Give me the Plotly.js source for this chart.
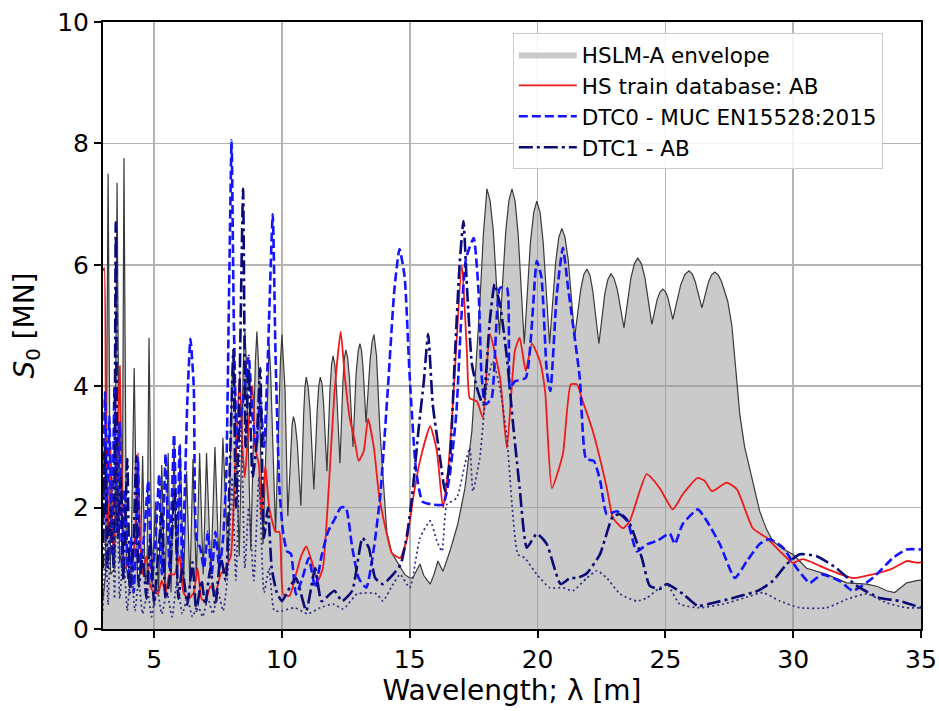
<!DOCTYPE html>
<html>
<head>
<meta charset="utf-8">
<script src="https://cdn.plot.ly/plotly-3.0.1.min.js"></script>
<style>html,body{margin:0;padding:0;background:#fff;}#chart{width:939px;height:711px;}</style>
</head>
<body>
<div id="chart"></div>
<script>
// HSLM-A envelope
const envX = [3.0,3.1,3.2,3.3,3.45,3.55,3.65,3.75,3.82,3.92,4.08,4.22,4.35,4.45,4.55,4.65,4.72,4.8,4.92,5.05,5.17,5.3,5.42,5.55,5.66,5.78,5.9,6.02,6.15,6.27,6.4,6.52,6.65,6.78,6.92,7.05,7.22,7.38,7.54,7.69,7.9,8.04,8.1,8.16,8.33,8.49,8.55,8.61,8.78,8.96,9.02,9.08,9.26,9.44,9.5,9.56,9.75,9.94,10.0,10.06,10.12,10.23,10.34,10.4,10.45,10.52,10.6,10.74,10.85,10.9,10.95,11.02,11.1,11.25,11.38,11.44,11.5,11.57,11.63,11.76,11.88,11.94,12.0,12.07,12.13,12.27,12.385,12.44,12.5,12.57,12.64,12.78,12.9,12.98,13.05,13.11,13.17,13.29,13.45,13.53,13.6,13.7,13.83,14.1,14.3,14.5,14.8,15.0,15.12,15.25,15.4,15.55,15.8,15.95,16.1,16.3,16.57,16.88,17.16,17.43,17.6,17.74,17.88,17.95,18.02,18.14,18.27,18.51,18.755,18.88,19.0,19.12,19.24,19.48,19.72,19.85,19.97,20.1,20.22,20.47,20.71,20.83,20.95,21.07,21.2,21.45,21.69,21.81,21.93,22.05,22.16,22.4,22.63,22.75,22.87,22.99,23.12,23.38,23.65,23.79,23.92,24.06,24.2,24.47,24.68,24.79,24.9,25.0,25.1,25.29,25.6,25.76,25.92,26.05,26.17,26.43,26.68,26.8,26.93,27.07,27.2,27.44,27.6,27.75,27.91,28.1,28.3,28.5,28.69,28.95,29.2,29.6,29.98,30.53,31.31,32.1,32.88,33.3,33.66,33.97,34.2,34.44,34.87,35.0];
const envY = [0.5,0.9,7.5,0.9,1.0,7.35,1.1,1.3,7.76,1.0,0.7,4.3,0.8,0.9,2.85,0.8,0.9,4.8,0.7,2.1,0.6,2.7,0.6,2.9,0.6,3.05,0.7,3.05,0.7,2.6,0.7,2.8,0.8,2.9,0.9,2.9,0.9,3.0,1.0,3.15,1.1,4.0,4.5,4.0,1.2,4.4,4.9,4.4,1.3,4.4,4.9,4.4,1.4,4.2,4.7,4.2,1.6,4.4,4.85,4.4,3.95,1.86,3.02,3.37,3.5,3.38,3.07,2.03,3.54,3.98,4.15,4.0,3.61,2.3,3.61,4.0,4.15,4.03,3.7,2.6,3.95,4.35,4.5,4.36,3.99,2.73,4.06,4.45,4.6,4.47,4.14,3.0,4.2,4.57,4.7,4.6,4.32,3.4,4.43,4.74,4.85,4.5,3.3,1.6,1.25,1.1,0.9,0.84,0.84,0.95,1.07,0.88,0.74,0.9,1.12,0.95,1.28,1.73,2.32,3.26,4.4,5.35,6.5,6.95,7.25,7.06,6.55,4.85,6.55,7.06,7.25,7.05,6.51,4.7,6.37,6.86,7.05,6.86,6.37,4.7,6.05,6.45,6.6,6.46,6.08,4.8,5.6,5.84,5.93,5.83,5.57,4.7,5.52,5.76,5.85,5.78,5.59,4.96,5.78,6.02,6.11,6.02,5.79,5.02,5.43,5.55,5.6,5.56,5.46,5.1,5.67,5.84,5.9,5.85,5.72,5.29,5.71,5.83,5.88,5.83,5.72,5.4,5.0,4.3,3.54,3.0,2.65,2.25,1.94,1.65,1.45,1.32,1.23,1.0,0.9,0.76,0.74,0.7,0.63,0.6,0.68,0.76,0.8,0.8];

// HS train database: AB
const redX = [3.0,3.05,3.12,3.2,3.3,3.4,3.5,3.6,3.66,3.75,3.85,4.0,4.15,4.3,4.37,4.45,4.55,4.7,4.85,5.0,5.15,5.3,5.45,5.6,5.8,6.0,6.15,6.35,6.55,6.7,6.85,7.0,7.2,7.4,7.6,7.8,8.0,8.15,8.35,8.45,8.55,8.7,8.85,8.95,9.1,9.2,9.35,9.5,9.75,9.9,10.05,10.3,10.55,10.75,10.95,11.2,11.4,11.6,11.8,12.05,12.3,12.45,12.65,12.85,13.0,13.2,13.37,13.6,13.8,14.1,14.3,14.62,14.9,15.15,15.4,15.8,16.06,16.3,16.5,16.7,17.04,17.24,17.35,17.63,17.86,18.13,18.53,18.8,19.11,19.3,19.54,19.78,20.1,20.3,20.56,20.99,21.3,21.54,21.77,22.16,22.71,22.95,23.34,23.61,24.27,24.78,25.29,25.68,26.27,26.54,26.82,27.4,27.8,28.42,28.97,29.48,29.98,30.38,31.31,32.33,33.11,33.9,34.44,34.87,35.0];
const redY = [5.9,5.95,2.5,1.5,3.0,1.2,2.0,3.5,4.33,2.0,1.0,1.07,1.1,2.0,2.9,1.5,0.9,1.2,0.7,0.6,0.58,0.8,0.6,0.9,0.9,1.2,0.6,0.5,0.6,1.0,0.5,0.45,0.7,0.6,0.9,1.0,1.2,2.5,4.2,3.0,2.5,3.4,4.0,3.0,2.7,1.8,2.7,2.0,1.6,1.6,0.57,0.55,0.9,1.2,1.36,1.07,0.79,1.0,2.1,3.87,4.9,4.2,3.48,3.1,2.77,2.93,3.46,2.98,2.2,1.57,1.25,1.17,1.5,2.2,2.77,3.34,2.93,2.0,2.6,3.8,6.0,4.53,3.8,3.75,3.48,4.86,4.14,2.98,4.58,4.8,4.25,4.7,4.4,3.9,2.32,2.88,4.03,4.03,3.75,3.26,2.32,1.83,1.66,1.78,2.55,2.32,1.97,2.22,2.49,2.44,2.27,2.41,2.3,1.66,1.5,1.28,1.09,1.15,0.99,0.84,0.9,1.0,1.12,1.09,1.1];

// DTC0 - MUC EN15528:2015
const dtc0X = [3.0,3.08,3.15,3.25,3.35,3.45,3.55,3.65,3.75,3.85,4.0,4.1,4.2,4.3,4.37,4.45,4.6,4.77,4.9,5.05,5.2,5.3,5.45,5.6,5.78,5.9,6.0,6.1,6.3,6.42,6.55,6.65,6.8,6.95,7.1,7.25,7.4,7.55,7.7,7.82,7.93,8.03,8.12,8.25,8.4,8.55,8.7,8.85,9.0,9.15,9.3,9.45,9.64,9.75,9.9,10.05,10.2,10.35,10.55,10.8,11.05,11.3,11.55,11.8,12.05,12.3,12.5,12.75,13.0,13.3,13.6,13.85,14.15,14.4,14.6,14.8,15.0,15.25,15.5,15.9,16.3,16.55,16.82,17.0,17.2,17.5,17.7,17.8,17.95,18.2,18.53,18.8,18.92,19.11,19.54,19.97,20.15,20.36,20.5,20.75,20.99,21.2,21.65,21.9,22.2,22.45,22.71,23.1,23.5,23.88,24.3,24.67,25.17,25.37,25.68,26.27,26.62,27.13,27.72,28.19,28.69,29.08,29.6,30.14,30.65,31.12,31.82,32.33,33.11,33.9,34.44,35.0];
const dtc0Y = [1.5,3.9,2.0,3.5,1.2,4.0,1.6,3.4,1.0,2.3,0.8,1.5,0.6,1.5,2.82,1.0,1.5,2.44,0.8,1.4,2.55,0.9,2.88,1.0,3.21,1.2,3.05,1.0,3.76,4.78,4.0,1.5,1.34,1.0,1.6,0.9,1.6,1.0,1.5,2.5,5.5,8.05,5.0,3.0,3.5,4.0,4.5,3.5,3.0,3.8,3.0,4.5,6.83,4.5,2.32,1.57,1.28,1.24,0.57,0.84,1.17,0.68,1.2,1.6,1.8,2.0,2.0,1.34,0.84,0.68,1.34,2.22,4.0,5.6,6.26,5.8,4.14,2.6,2.1,2.05,2.05,2.49,3.54,5.0,6.1,6.44,5.5,4.25,3.7,3.8,5.62,5.62,3.97,4.08,4.14,6.06,5.8,4.25,3.92,5.5,6.28,5.6,4.14,2.8,2.77,2.44,1.89,1.94,1.8,1.28,1.4,1.45,1.57,1.4,1.73,1.97,1.78,1.4,0.84,1.12,1.4,1.48,1.34,1.0,0.76,0.9,0.79,0.63,0.84,1.17,1.31,1.31];

// DTC1 - AB
const dtc1X = [3.0,3.08,3.18,3.3,3.42,3.5,3.58,3.7,3.8,3.95,4.05,4.2,4.3,4.4,4.55,4.7,4.85,5.0,5.15,5.3,5.45,5.6,5.8,5.95,6.1,6.3,6.5,6.65,6.85,7.0,7.2,7.4,7.6,7.8,7.95,8.1,8.2,8.3,8.48,8.58,8.7,8.85,9.0,9.15,9.3,9.45,9.6,9.8,10.0,10.3,10.55,10.95,11.3,11.55,12.05,12.35,12.75,13.15,13.4,13.65,13.95,14.35,14.65,14.9,15.1,15.35,15.55,15.72,15.9,16.2,16.38,16.57,16.77,16.95,17.1,17.24,17.43,17.63,17.86,18.13,18.32,18.53,18.8,19.03,19.3,19.58,19.97,20.36,20.9,21.28,21.54,21.93,22.44,22.95,23.22,23.61,24.08,24.39,24.78,25.06,25.68,26.27,26.86,27.64,28.62,29.2,29.75,30.26,30.92,31.7,32.49,33.39,34.17,35.0];
const dtc1Y = [1.0,3.0,1.0,2.0,1.0,6.7,1.5,2.5,0.8,2.8,0.6,1.5,2.85,0.7,1.2,0.5,1.5,0.4,1.2,1.9,0.5,0.8,2.3,0.5,1.0,0.4,1.1,0.3,0.8,0.4,1.0,0.4,1.2,0.8,2.5,4.6,2.0,3.0,7.25,3.0,4.3,2.5,3.0,4.3,1.5,2.0,1.0,0.6,0.46,0.68,0.84,0.3,1.0,0.46,0.63,0.46,0.63,1.5,1.34,0.84,0.74,0.9,1.07,1.57,2.22,3.31,4.08,4.86,3.7,2.77,2.27,2.77,4.53,6.0,6.72,5.62,4.37,3.97,3.7,5.07,5.68,5.35,4.47,3.43,2.32,1.34,1.57,1.4,0.74,0.84,0.84,0.92,1.23,1.86,1.89,1.73,1.17,0.71,0.66,0.74,0.58,0.38,0.43,0.51,0.63,0.79,1.07,1.23,1.2,1.0,0.71,0.51,0.46,0.35];

// unlabelled dotted series
const dotX = [3.0,3.1,3.2,3.35,3.45,3.55,3.65,3.8,3.95,4.1,4.25,4.4,4.55,4.75,4.9,5.1,5.3,5.5,5.7,5.9,6.1,6.3,6.5,6.7,6.9,7.1,7.3,7.5,7.7,7.9,8.05,8.2,8.4,8.55,8.7,8.9,9.1,9.3,9.5,9.7,10.0,10.5,11.0,11.5,12.0,12.4,12.95,13.7,13.95,14.35,14.62,15.0,15.4,15.8,16.06,16.26,16.45,16.84,17.16,17.35,17.47,17.74,18.02,18.25,18.53,18.8,19.0,19.23,19.5,19.97,20.48,20.99,21.38,21.93,22.32,22.71,23.22,23.88,24.27,24.78,25.06,25.56,26.35,27.25,28.3,28.81,29.48,30.26,31.31,32.1,32.88,33.66,34.44,35.0];
const dotY = [0.3,1.5,0.4,2.5,0.5,3.0,0.5,1.2,0.3,1.0,0.3,0.8,0.25,0.6,0.2,0.7,0.25,0.6,0.2,0.8,0.25,0.5,0.2,0.4,0.2,0.5,0.25,0.6,0.3,1.0,2.5,0.8,3.5,1.0,2.0,0.8,2.5,0.6,1.0,0.3,0.3,0.35,0.25,0.35,0.41,0.33,0.58,0.58,0.46,0.74,0.9,0.68,1.5,1.78,1.45,1.28,2.05,2.16,2.72,2.98,2.27,2.82,4.03,4.41,3.97,3.15,2.05,1.23,1.17,0.9,0.68,0.68,0.63,0.84,0.96,0.84,0.58,0.46,0.51,0.68,0.74,0.41,0.35,0.41,0.54,0.6,0.46,0.35,0.35,0.49,0.58,0.43,0.35,0.35];

const xTicks = [5,10,15,20,25,30,35];
const yTicks = [0,2,4,6,8,10];

const FONT = 'DejaVu Sans, Arial, sans-serif';
const sm = 0.5;

const traces = [
  {x: envX, y: envY, type: 'scatter', mode: 'lines', name: 'HSLM-A envelope',
   fill: 'tozeroy', fillcolor: 'rgba(150,150,150,0.5)', line: {width: 0, color: 'rgba(0,0,0,0)'}},
  {x: envX, y: envY, type: 'scatter', mode: 'lines', showlegend: false,
   line: {width: 1.2, color: '#3a3a3a'}},
  {x: redX, y: redY, type: 'scatter', mode: 'lines', name: 'HS train database: AB',
   line: {width: 1.8, color: '#f01a1a', shape: 'spline', smoothing: sm}},
  {x: dtc0X, y: dtc0Y, type: 'scatter', mode: 'lines', name: 'DTC0 - MUC EN15528:2015',
   line: {width: 2.6, color: '#1414ff', dash: '9px,4px', shape: 'spline', smoothing: sm}},
  {x: dtc1X, y: dtc1Y, type: 'scatter', mode: 'lines', name: 'DTC1 - AB',
   line: {width: 2.6, color: '#0a0a78', dash: '14px,4px,3px,4px', shape: 'spline', smoothing: sm}},
  {x: dotX, y: dotY, type: 'scatter', mode: 'lines', showlegend: false,
   line: {width: 1.7, color: '#2a2a80', dash: '2px,3px', shape: 'spline', smoothing: sm}}
];

const axisCommon = {
  showgrid: true, gridcolor: '#b4b4b4', gridwidth: 1.5,
  showline: true, linecolor: '#000', linewidth: 2, mirror: true,
  ticks: 'outside', ticklen: 7, tickwidth: 2, tickcolor: '#000',
  tickfont: {family: FONT, size: 25, color: '#000'},
  zeroline: false
};

const layout = {
  width: 939, height: 711,
  margin: {l: 103, r: 18, t: 22, b: 82, pad: 0},
  paper_bgcolor: '#fff', plot_bgcolor: '#fff',
  font: {family: FONT, color: '#000'},
  xaxis: Object.assign({}, axisCommon, {
    range: [3, 35], tickmode: 'array', tickvals: xTicks, ticktext: xTicks.map(String),
    title: {text: 'Wavelength; λ [m]', font: {family: FONT, size: 28, color: '#000'}, standoff: 4}
  }),
  yaxis: Object.assign({}, axisCommon, {
    range: [0, 10], tickmode: 'array', tickvals: yTicks, ticktext: yTicks.map(String),
    title: {text: '<i>S</i><sub>0</sub> [MN]', font: {family: FONT, size: 28, color: '#000'}, standoff: 14}
  }),
  legend: {
    x: 0.501, y: 0.982, xanchor: 'left', yanchor: 'top',
    bgcolor: 'rgba(255,255,255,0.85)', bordercolor: '#cccccc', borderwidth: 1,
    itemwidth: 58,
    font: {family: FONT, size: 21.5, color: '#000'}
  },
  showlegend: true,
  hovermode: false
};

Plotly.newPlot('chart', traces, layout, {staticPlot: true, displayModeBar: false});
</script>
</body>
</html>
